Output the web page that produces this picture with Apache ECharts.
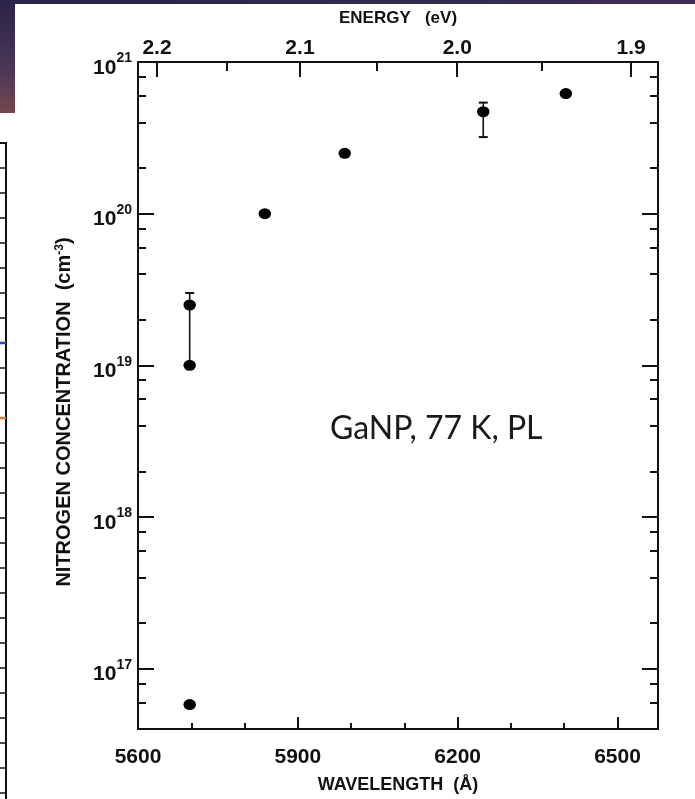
<!DOCTYPE html>
<html>
<head>
<meta charset="utf-8">
<script src="https://cdn.jsdelivr.net/npm/echarts@6/dist/echarts.min.js"></script>
<style>
  html, body { margin: 0; padding: 0; background: #ffffff; }
  #chart { width: 695px; height: 799px; }
</style>
</head>
<body>
<div id="chart"></div>
<script>
// Wavelength axis (bottom), in angstroms
const wavelengthLabels = [5600, 5900, 6200, 6500];
const wavelengthMajorTicks = [5900, 6200, 6500];
const wavelengthMinorTicks = [5700, 5800, 6000, 6100, 6300, 6400];

// Photon energy axis (top), in eV
const energyMajor = [2.2, 2.1, 2.0, 1.9];
const energyMinor = [2.15, 2.05, 1.95];

// Nitrogen concentration axis, cm^-3
const concDecades = [1e17, 1e18, 1e19, 1e20, 1e21];
const concMinor = [
  6e16, 8e16,
  2e17, 4e17, 6e17, 8e17,
  2e18, 4e18, 6e18, 8e18,
  2e19, 4e19, 6e19, 8e19,
  2e20, 4e20, 6e20, 8e20
];

// PL peak position vs nitrogen concentration (GaNP, 77 K)
const peakWavelength = [5697, 5697, 5697, 5838, 5988, 6248, 6403];
const nitrogenConc   = [5.8e16, 1e19, 2.5e19, 1e20, 2.5e20, 4.7e20, 6.2e20];

// Uncertainty ranges
const errWavelength = [5697, 6248];
const errLow  = [1e19, 3.2e20];
const errHigh = [3e19, 5.4e20];

const HC = 12398.4; // eV·Å
const toWavelength = e => HC / e;

const FONT = "'Liberation Sans', Arial, sans-serif";
const INK = '#111111';

const chart = echarts.init(document.getElementById('chart'), null, { renderer: 'canvas' });

const X_MIN = 5600, X_MAX = 6576;
const Y_MIN = 4e16, Y_MAX = 1.0005e21;

function xBase(extra) {
  return Object.assign({
    type: 'value', min: X_MIN, max: X_MAX,
    splitLine: { show: false },
    axisLine: { show: false, onZero: false },
    axisTick: { show: false },
    axisLabel: { show: false }
  }, extra);
}
function yBase(extra) {
  return Object.assign({
    type: 'log', logBase: 10, min: Y_MIN, max: Y_MAX,
    splitLine: { show: false },
    axisLine: { show: false, onZero: false },
    axisTick: { show: false },
    axisLabel: { show: false }
  }, extra);
}

const xAxis = [
  // bottom: frame line, labels, major ticks
  xBase({
    position: 'bottom',
    axisLine: { show: true, onZero: false, lineStyle: { color: INK, width: 2 } },
    axisTick: { show: true, inside: true, length: 12, customValues: wavelengthMajorTicks, lineStyle: { color: INK, width: 2 } },
    axisLabel: { show: true, customValues: wavelengthLabels, margin: 18, color: INK,
                 fontFamily: FONT, fontWeight: 'bold', fontSize: 21,
                 formatter: v => String(v) },
    name: 'WAVELENGTH  (Å)', nameLocation: 'middle', nameGap: 47,
    nameTextStyle: { color: INK, fontFamily: FONT, fontWeight: 'bold', fontSize: 18 }
  }),
  // bottom: minor ticks
  xBase({
    position: 'bottom',
    axisTick: { show: true, inside: true, length: 6, customValues: wavelengthMinorTicks, lineStyle: { color: INK, width: 2 } }
  }),
  // top: frame line, energy labels and major ticks
  xBase({
    position: 'top',
    axisLine: { show: true, onZero: false, lineStyle: { color: INK, width: 2 } },
    axisTick: { show: true, inside: true, length: 15, customValues: energyMajor.map(toWavelength), lineStyle: { color: INK, width: 2 } },
    axisLabel: { show: true, customValues: energyMajor.map(toWavelength), margin: 3, color: INK,
                 fontFamily: FONT, fontWeight: 'bold', fontSize: 21,
                 formatter: v => (HC / v).toFixed(1) },
    name: 'ENERGY   (eV)', nameLocation: 'middle', nameGap: 35,
    nameTextStyle: { color: INK, fontFamily: FONT, fontWeight: 'bold', fontSize: 17 }
  }),
  // top: minor ticks
  xBase({
    position: 'top',
    axisTick: { show: true, inside: true, length: 9, customValues: energyMinor.map(toWavelength), lineStyle: { color: INK, width: 2 } }
  })
];

const expRich = {
  b: { fontFamily: FONT, fontWeight: 'bold', fontSize: 21, color: INK, lineHeight: 27, verticalAlign: 'bottom' },
  s: { fontFamily: FONT, fontWeight: 'bold', fontSize: 14, color: INK, lineHeight: 27, verticalAlign: 'top' }
};

const yAxis = [
  // left: frame line, decade labels and ticks
  yBase({
    position: 'left',
    axisLine: { show: true, onZero: false, lineStyle: { color: INK, width: 2 } },
    axisTick: { show: true, inside: true, length: 16, customValues: concDecades, lineStyle: { color: INK, width: 2 } },
    axisLabel: { show: true, customValues: concDecades, margin: 6, padding: [6, 0, 0, 0],
                 formatter: v => '{b|10}{s|' + Math.round(Math.log10(v)) + '}',
                 rich: expRich }
  }),
  // left: minor ticks
  yBase({
    position: 'left',
    axisTick: { show: true, inside: true, length: 8, customValues: concMinor, lineStyle: { color: INK, width: 2 } }
  }),
  // right: frame line and decade ticks
  yBase({
    position: 'right',
    axisLine: { show: true, onZero: false, lineStyle: { color: INK, width: 2 } },
    axisTick: { show: true, inside: true, length: 16, customValues: concDecades, lineStyle: { color: INK, width: 2 } }
  }),
  // right: minor ticks
  yBase({
    position: 'right',
    axisTick: { show: true, inside: true, length: 8, customValues: concMinor, lineStyle: { color: INK, width: 2 } }
  })
];

const points = peakWavelength.map((w, i) => [w, nitrogenConc[i]]);
const bars = errWavelength.map((w, i) => [w, errLow[i], errHigh[i]]);

// Fragment of a neighbouring plot at the left edge
const fragment = [];
fragment.push({ type: 'line', shape: { x1: 0, y1: 143, x2: 6, y2: 143 }, style: { stroke: INK, lineWidth: 2 } });
fragment.push({ type: 'line', shape: { x1: 6, y1: 142, x2: 6, y2: 799 }, style: { stroke: INK, lineWidth: 2 } });
for (let y = 168; y < 799; y += 25) {
  fragment.push({ type: 'line', shape: { x1: 0, y1: y, x2: 6, y2: y }, style: { stroke: INK, lineWidth: 1.5 } });
}
fragment.push({ type: 'line', shape: { x1: 0, y1: 343, x2: 6, y2: 343 }, style: { stroke: '#2050d0', lineWidth: 2.5 } });
fragment.push({ type: 'line', shape: { x1: 0, y1: 418, x2: 6, y2: 418 }, style: { stroke: '#e07a30', lineWidth: 2.5 } });

const option = {
  backgroundColor: '#ffffff',
  animation: false,
  grid: { left: 138, right: 37, top: 62, bottom: 65, containLabel: false },
  xAxis: xAxis,
  yAxis: yAxis,
  graphic: [
    // slide background corner
    { type: 'rect', z: 100, shape: { x: 0, y: 0, width: 695, height: 4 },
      style: { fill: new echarts.graphic.LinearGradient(0, 0, 1, 0, [
        { offset: 0, color: '#2a2448' }, { offset: 1, color: '#3b2f52' }]) } },
    { type: 'rect', z: 100, shape: { x: 0, y: 0, width: 15, height: 113 },
      style: { fill: new echarts.graphic.LinearGradient(0, 0, 0, 1, [
        { offset: 0, color: '#2a2448' }, { offset: 0.6, color: '#4a3656' }, { offset: 1, color: '#74484f' }]) } },
    { type: 'group', z: 100, children: fragment },
    // y axis title
    { type: 'text', z: 100, x: 64, y: 412, rotation: Math.PI / 2,
      style: { text: 'NITROGEN CONCENTRATION  (cm{s|-3})', align: 'center', verticalAlign: 'middle',
               fill: INK, font: "bold 20px " + FONT,
               rich: { s: { fontSize: 12, fontWeight: 'bold', fontFamily: FONT, verticalAlign: 'top', fill: INK } } } },
    // sample annotation
    { type: 'text', z: 100, x: 330, y: 429,
      style: { text: 'GaNP, 77 K, PL', align: 'left', verticalAlign: 'middle',
               fill: '#1a1a1a', font: "32px 'Lato', 'Noto Sans', sans-serif" } }
  ],
  series: [
    {
      type: 'custom',
      xAxisIndex: 0, yAxisIndex: 0,
      data: bars,
      encode: { x: 0, y: [1, 2] },
      renderItem: function (params, api) {
        const x = api.value(0);
        const lo = api.coord([x, api.value(1)]);
        const hi = api.coord([x, api.value(2)]);
        const w = 4.5;
        const st = { stroke: INK, lineWidth: 1.6 };
        return {
          type: 'group',
          children: [
            { type: 'line', shape: { x1: lo[0], y1: lo[1], x2: hi[0], y2: hi[1] }, style: st },
            { type: 'line', shape: { x1: hi[0] - w, y1: hi[1], x2: hi[0] + w, y2: hi[1] }, style: { stroke: INK, lineWidth: 2 } },
            { type: 'line', shape: { x1: lo[0] - w, y1: lo[1], x2: lo[0] + w, y2: lo[1] }, style: { stroke: INK, lineWidth: 2 } }
          ]
        };
      },
      z: 2
    },
    {
      type: 'scatter',
      xAxisIndex: 0, yAxisIndex: 0,
      data: points,
      symbol: 'circle',
      symbolSize: [12.5, 11],
      itemStyle: { color: '#000000', opacity: 1 },
      z: 3
    }
  ]
};

chart.setOption(option);
</script>
</body>
</html>
